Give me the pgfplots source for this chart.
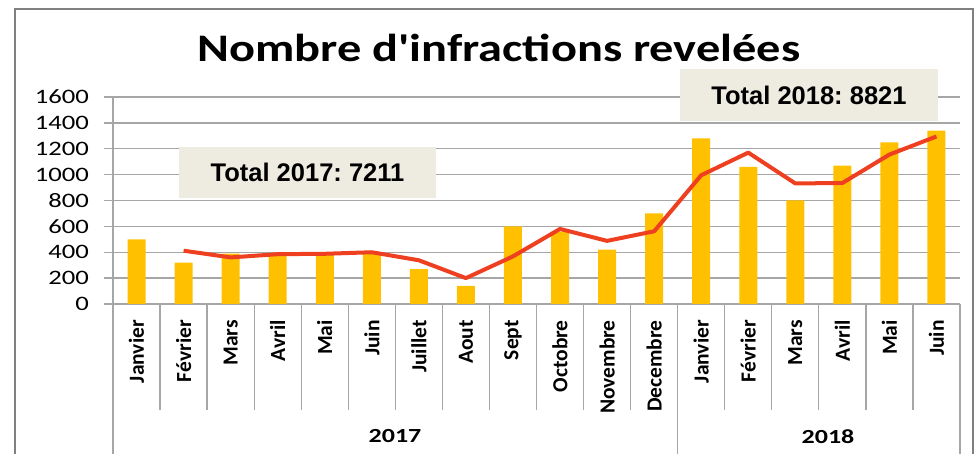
\documentclass[border=0pt]{standalone}
\usepackage{fontspec}
\usepackage{pgfplots}
\pgfplotsset{compat=1.18}
\setmainfont{Carlito}
\newfontfamily\stretchfont[FakeStretch=1.3]{Carlito}
\newfontfamily\titlefont[FakeStretch=1.24]{Carlito}
\newfontfamily\arialfont{Liberation Sans}
\definecolor{bargold}{HTML}{FFC000}
\definecolor{linered}{HTML}{EE4021}
\definecolor{gridgray}{HTML}{A6A6A6}
\definecolor{boxtan}{HTML}{EEECE1}
\definecolor{framegray}{HTML}{808080}
\frenchspacing
\begin{document}
\begin{tikzpicture}[x=1pt,y=1pt]
\path[use as bounding box] (0,0) rectangle (975,454);
\draw[framegray, line width=2pt] (15,-10) rectangle (973,445);
\begin{axis}[
  at={(113pt,150pt)}, anchor=south west,
  scale only axis, width=847pt, height=207pt,
  xmin=-0.5, xmax=17.5, ymin=0, ymax=1600,
  ytick={0,200,...,1600},
  xtick={0,...,17},
  xticklabels={Janvier,Février,Mars,Avril,Mai,Juin,Juillet,Aout,Sept,Octobre,Novembre,Decembre,Janvier,Février,Mars,Avril,Mai,Juin},
  axis x line=bottom, axis y line=left,
  axis line style={gridgray, line width=1.3pt, -},
  ymajorgrids, grid style={gridgray, line width=1.3pt},
  tick align=outside, major tick length=9pt,
  ytick style={gridgray, line width=1.3pt},
  xtick style={draw=none},
  /pgf/number format/assume math mode=true,
  /pgf/number format/1000 sep={},
  scaled y ticks=false,
  yticklabel style={font=\stretchfont\fontsize{20.5}{20.5}\selectfont, inner sep=0pt, anchor=east, xshift=-15pt},
  xticklabel style={font=\bfseries\fontsize{21.5}{21.5}\selectfont, rotate=90, anchor=east, inner sep=0pt},
  xticklabel shift=7pt,
  clip=false,
]
\addplot[ybar, bar width=18pt, fill=bargold, draw=none] coordinates {
(0,500) (1,320) (2,390) (3,380) (4,380) (5,400) (6,270) (7,140) (8,600)
(9,560) (10,420) (11,700) (12,1280) (13,1060) (14,800) (15,1070) (16,1250) (17,1340)};
\addplot[linered, line width=4pt, line join=round, mark=none] coordinates {
(1,412) (2,360) (3,385) (4,388) (5,400) (6,338) (7,200) (8,368) (9,580)
(10,488) (11,562) (12,995) (13,1170) (14,932) (15,935) (16,1155) (17,1295)};
\pgfplotsinvokeforeach{0.5,1.5,...,10.5,12.5,13.5,...,16.5}{
  \draw[gridgray, line width=1.3pt] (axis cs:#1,0) -- ([yshift=-106pt]axis cs:#1,0);}
\pgfplotsinvokeforeach{-0.5,11.5,17.5}{
  \draw[gridgray, line width=1.3pt] (axis cs:#1,0) -- ([yshift=-170pt]axis cs:#1,0);}
\end{axis}
\node[font=\stretchfont\bfseries\fontsize{20}{20}\selectfont] at (395,17.5) {2017};
\node[font=\stretchfont\bfseries\fontsize{20}{20}\selectfont] at (828,17.5) {2018};
\node[font=\titlefont\bfseries\fontsize{39}{39}\selectfont, anchor=base] at (499,392) {Nombre d'infractions revelées};
\node[fill=boxtan, draw=none, minimum width=257pt, minimum height=51pt, inner sep=0pt,
  font=\arialfont\bfseries\fontsize{25.5}{25.5}\selectfont] at (307.5,281.5) {Total 2017: 7211};
\node[fill=boxtan, draw=none, minimum width=258pt, minimum height=52pt, inner sep=0pt,
  font=\arialfont\bfseries\fontsize{25.5}{25.5}\selectfont] at (809,359) {Total 2018: 8821};
\end{tikzpicture}
\end{document}
